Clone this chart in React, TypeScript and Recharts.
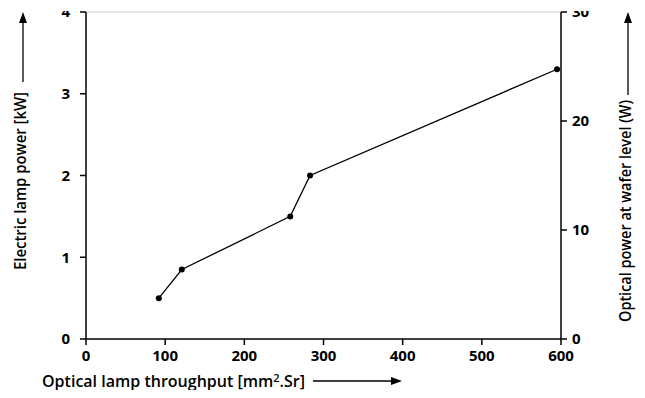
import React from "react";
import { LineChart, Line, XAxis, YAxis, ReferenceLine, Label } from "recharts";

const throughput = [92, 121, 258, 283, 595];
const lampPower = [0.5, 0.85, 1.5, 2.0, 3.3];
const xTicks = [0, 100, 200, 300, 400, 500, 600];
const kwTicks = [0, 1, 2, 3, 4];
const wattTicks = [0, 10, 20, 30];

const data = throughput.map((x, i) => ({ x, kw: lampPower[i] }));

const FONT = "'Open Sans', 'DejaVu Sans', sans-serif";
const tickStyle = { fill: "#000", fontSize: 15, fontWeight: 700, fontFamily: FONT };

function XLabel({ viewBox }: any) {
  const y = viewBox.y + 42;
  const x0 = viewBox.x - 44;
  return (
    <g>
      <text
        x={x0}
        y={y}
        dy="0.35em"
        fontSize={16}
        fontWeight={600}
        fontFamily={FONT}
        fill="#000"
        textLength={263}
        lengthAdjust="spacingAndGlyphs"
      >
        Optical lamp throughput [mm
        <tspan fontSize={11} dy={-5}>2</tspan>
        <tspan dy={5}>.Sr]</tspan>
      </text>
      <line x1={313} y1={y} x2={394} y2={y} stroke="#000" strokeWidth={1.3} />
      <polygon points={`${402},${y} ${391},${y - 4} ${391},${y + 4}`} fill="#000" />
    </g>
  );
}

function LeftLabel() {
  const cx = 20;
  return (
    <g>
      <text
        x={cx}
        y={270}
        dy="0.35em"
        transform={`rotate(-90, ${cx}, 270)`}
        fontSize={16}
        fontWeight={600}
        fontFamily={FONT}
        fill="#000"
        textLength={178}
        lengthAdjust="spacingAndGlyphs"
      >
        Electric lamp power [kW]
      </text>
      <line x1={cx + 3} y1={82} x2={cx + 3} y2={20} stroke="#000" strokeWidth={1.3} />
      <polygon points={`${cx + 3},12 ${cx - 1},23 ${cx + 7},23`} fill="#000" />
    </g>
  );
}

function RightLabel() {
  const cx = 625;
  return (
    <g>
      <text
        x={cx}
        y={322}
        dy="0.35em"
        transform={`rotate(-90, ${cx}, 322)`}
        fontSize={16}
        fontWeight={600}
        fontFamily={FONT}
        fill="#000"
        textLength={222}
        lengthAdjust="spacingAndGlyphs"
      >
        Optical power at wafer level (W)
      </text>
      <line x1={cx + 3} y1={95} x2={cx + 3} y2={20} stroke="#000" strokeWidth={1.3} />
      <polygon points={`${cx + 3},12 ${cx - 1},23 ${cx + 7},23`} fill="#000" />
    </g>
  );
}

export default function App() {
  return (
    <div style={{ position: "relative", width: 645, height: 398, margin: -8, background: "#fff", overflow: "hidden" }}>
      <LineChart width={645} height={398} data={data} margin={{ top: 12, right: 0, left: 0, bottom: 0 }}>
        <XAxis
          type="number"
          dataKey="x"
          domain={[0, 600]}
          ticks={xTicks}
          height={59}
          tick={tickStyle}
          tickSize={6}
          tickMargin={5}
          stroke="#000"
          strokeWidth={1.5}
        >
          <Label content={XLabel} />
        </XAxis>
        <YAxis
          yAxisId="kw"
          domain={[0, 4]}
          ticks={kwTicks}
          width={86}
          tick={tickStyle}
          tickSize={6}
          tickMargin={10}
          stroke="#000"
          strokeWidth={1.5}
        >
          <Label content={LeftLabel} />
        </YAxis>
        <YAxis
          yAxisId="w"
          orientation="right"
          domain={[0, 30]}
          ticks={wattTicks}
          allowDataOverflow
          width={84}
          tick={{ ...tickStyle, textAnchor: "start" }}
          tickSize={6}
          tickMargin={5}
          stroke="#000"
          strokeWidth={1.5}
        >
          <Label content={RightLabel} />
        </YAxis>
        <ReferenceLine yAxisId="kw" y={4} stroke="#cfcfcf" strokeWidth={1} />
        <Line
          yAxisId="kw"
          type="linear"
          dataKey="kw"
          stroke="#000"
          strokeWidth={1.3}
          dot={{ r: 3, fill: "#000", stroke: "#000", strokeWidth: 0 }}
          isAnimationActive={false}
        />
      </LineChart>
      <div style={{ position: "absolute", left: 30, top: 0, width: 570, height: 11, background: "#fff" }} />
    </div>
  );
}
